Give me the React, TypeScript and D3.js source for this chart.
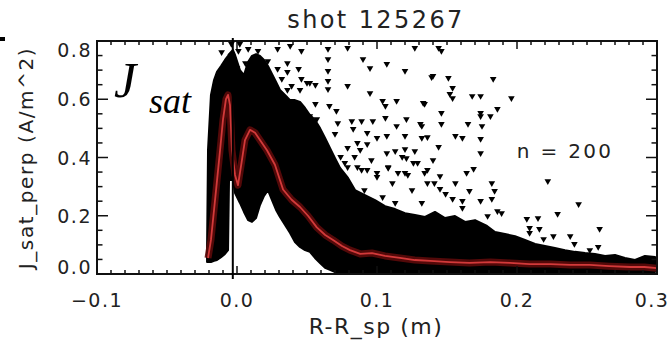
import React from 'react';
import * as d3 from 'd3';

const W = 671, H = 342;
const xTicks = [-0.1, 0.0, 0.1, 0.2, 0.3];
const xTickLabels = ['\u22120.1', '0.0', '0.1', '0.2', '0.3'];
const yTicks = [0.0, 0.2, 0.4, 0.6, 0.8];
const yTickLabels = ['0.0', '0.2', '0.4', '0.6', '0.8'];
const separatrixX = -0.003;

// dense cloud envelope (x, lower edge, upper edge)
const cloudX = [-0.0214,-0.0207,-0.0186,-0.0164,-0.0143,-0.0114,-0.0086,-0.0064,-0.0057,-0.0029,-0.0014,0.0021,0.005,0.0079,0.0107,0.0136,0.0164,0.0193,0.0221,0.025,0.0279,0.0307,0.0343,0.0379,0.0414,0.045,0.0486,0.0521,0.0557,0.0593,0.0629,0.0664,
  0.07,0.0736,0.0793,0.0843,0.0914,0.0986,0.1057,0.1129,0.12,0.1271,0.1343,0.1414,0.1486,0.1557,0.1629,0.17,0.1786,0.1843,0.1914,0.1986,0.2057,0.2129,0.22,0.2271,0.2343,0.2414,0.2486,0.2557,0.2629,0.27,0.2771,0.2843,0.2914,0.2986];
const cloudLo = [0.041,0.041,0.041,0.045,0.048,0.058,0.069,0.082,0.323,0.323,0.278,0.244,0.213,0.185,0.179,0.192,0.237,0.268,0.288,0.254,0.220,0.196,0.168,0.141,0.110,0.093,0.082,0.076,0.055,0.038,0.021,0.014,
  0.007,0.007,0.007,0.007,0.007,0.007,0.007,0.007,0.007,0.007,0.007,0.007,0.007,0.007,0.007,0.007,0.007,0.007,0.007,0.007,0.007,0.007,0.007,0.007,0.007,0.007,0.007,0.007,0.007,0.007,0.007,0.007,0.007,0.007];
const cloudHi = [0.082,0.426,0.615,0.666,0.694,0.714,0.735,0.749,0.755,0.769,0.752,0.700,0.683,0.728,0.749,0.755,0.749,0.735,0.714,0.687,0.659,0.632,0.615,0.597,0.597,0.591,0.570,0.546,0.529,0.501,0.467,0.433,
  0.398,0.364,0.330,0.288,0.271,0.254,0.233,0.223,0.209,0.203,0.196,0.213,0.192,0.199,0.179,0.185,0.165,0.144,0.137,0.130,0.117,0.103,0.096,0.089,0.082,0.076,0.072,0.069,0.062,0.065,0.055,0.048,0.062,0.058];

// sparse individual samples
const sparse: [number, number][] = [
  [0.001,0.766],[0.008,0.773],[0.015,0.766],[0.029,0.773],[0.038,0.783],[0.046,0.766],[0.000,0.707],[0.006,0.724],[0.022,0.731],[0.029,0.704],
  [0.036,0.724],[0.044,0.704],[0.032,0.670],[0.039,0.646],[0.046,0.670],[0.006,0.604],[0.004,0.646],[0.036,0.694],[0.045,0.632],[0.036,0.632],
  [0.050,0.656],[0.056,0.649],[-0.011,0.762],[-0.004,0.790],[0.002,0.790],
  [0.065,0.773],[0.065,0.738],[0.079,0.776],[0.090,0.738],[0.095,0.707],[0.107,0.721],[0.120,0.697],[0.127,0.776],[0.065,0.697],[0.065,0.663],
  [0.065,0.635],[0.052,0.656],[0.079,0.646],[0.095,0.621],[0.056,0.584],[0.066,0.577],[0.071,0.560],[0.104,0.594],[0.114,0.594],[0.106,0.577],
  [0.133,0.587],[0.052,0.542],[0.057,0.532],[0.072,0.518],[0.082,0.525],[0.089,0.525],[0.097,0.525],[0.106,0.536],[0.114,0.508],[0.121,0.532],
  [0.131,0.515],[0.083,0.498],[0.093,0.484],[0.100,0.467],[0.107,0.474],[0.120,0.474],[0.132,0.467],[0.070,0.481],[0.086,0.450],[0.093,0.446],
  [0.079,0.433],[0.113,0.422],[0.120,0.429],[0.127,0.422],[0.088,0.426],[0.107,0.415],[0.121,0.398],[0.126,0.381],[0.074,0.402],[0.079,0.367],
  [0.086,0.367],[0.093,0.357],[0.100,0.347],[0.108,0.364],[0.115,0.347],[0.122,0.340],[0.136,0.357],[0.140,0.391],[0.144,0.436],[0.136,0.470],
  [0.139,0.676],[0.144,0.776],[0.077,0.381],[0.084,0.402],[0.089,0.357],[0.096,0.391],[0.100,0.333],[0.108,0.367],[0.111,0.312],[0.118,0.402],
  [0.120,0.347],[0.125,0.288],[0.129,0.381],[0.132,0.244],[0.104,0.264],[0.113,0.244],[0.091,0.288],[0.079,0.299],
  [0.146,0.766],[0.140,0.680],[0.151,0.673],[0.154,0.639],[0.152,0.618],[0.154,0.604],[0.168,0.611],[0.174,0.611],[0.183,0.670],[0.196,0.604],
  [0.134,0.584],[0.146,0.553],[0.174,0.553],[0.174,0.542],[0.181,0.542],[0.186,0.567],[0.132,0.508],[0.146,0.515],[0.165,0.515],[0.175,0.508],
  [0.156,0.474],[0.161,0.467],[0.174,0.464],[0.174,0.415],[0.134,0.347],[0.145,0.336],[0.164,0.347],[0.169,0.361],[0.136,0.312],[0.141,0.312],
  [0.156,0.312],[0.166,0.285],[0.182,0.312],[0.184,0.285],[0.145,0.292],[0.149,0.275],[0.154,0.258],[0.161,0.251],[0.174,0.251],[0.182,0.258],
  [0.161,0.227],[0.186,0.216],[0.189,0.209],[0.179,0.199],[0.207,0.189],[0.215,0.192],[0.209,0.158],[0.209,0.141],
  [0.222,0.319],[0.244,0.240],[0.229,0.206],[0.216,0.155],[0.226,0.130],[0.238,0.130],[0.259,0.155],[0.241,0.103],[0.219,0.120],[0.252,0.082],[0.258,0.093],
];

// running median (n = 200)
const medX = [-0.0207,-0.0186,-0.0164,-0.0143,-0.0121,-0.010,-0.0079,-0.0064,-0.005,-0.0036,-0.0014,0.0007,0.003,0.0057,0.0093,0.0129,0.0164,0.0214,0.0271,0.0329,0.039,0.045,0.0507,0.057,0.063,0.0686,0.075,0.0807,0.088,0.0964,0.1057,0.1164,0.127,0.138,0.152,0.166,0.181,0.195,0.209,0.224,0.238,0.252,0.266,0.281,0.291,0.3];
const medY = [0.055,0.117,0.22,0.32,0.425,0.53,0.6,0.615,0.58,0.425,0.34,0.305,0.375,0.46,0.495,0.485,0.46,0.425,0.375,0.29,0.255,0.23,0.2,0.16,0.134,0.117,0.096,0.082,0.069,0.072,0.062,0.055,0.048,0.045,0.041,0.038,0.041,0.038,0.034,0.034,0.031,0.031,0.027,0.024,0.024,0.02];

const FONT = 'DejaVu Sans, sans-serif';

export default function App() {
  const x = d3.scaleLinear().domain([-0.1, 0.3]).range([97, 657]);
  const y = d3.scaleLinear().domain([0, 0.8]).range([274, 41]);
  const [x0, x1] = x.range();
  const [y0, y1] = y.range();

  const cloud = cloudX.map((v, i) => ({ x: v, lo: cloudLo[i], hi: cloudHi[i] }));
  const areaGen = d3.area<any>().x(d => x(d.x)).y0(d => y(d.lo)).y1(d => y(d.hi));
  const med = medX.map((v, i) => [v, medY[i]] as [number, number]);
  const lineGen = d3.line<[number, number]>().x(d => x(d[0])).y(d => y(d[1]));
  const tri = d3.symbol(d3.symbolTriangle, 19)();

  const xMinor = d3.range(-0.1, 0.3001, 0.01);
  const yMinor = d3.range(0, 0.8001, 0.05);
  const isMajor = (v: number, step: number) => Math.abs(v / step - Math.round(v / step)) < 1e-6;

  return (
    <svg width={W} height={H} style={{ position: 'absolute', left: 0, top: 0, background: '#fff' }}>
      <rect x={0} y={0} width={W} height={H} fill="#fff" />
      <defs>
        <clipPath id="plot"><rect x={x0} y={y1} width={x1 - x0} height={y0 - y1} /></clipPath>
      </defs>
      <rect x={0} y={37} width={5} height={4} fill="#000" />
      <g clipPath="url(#plot)">
        <path d={areaGen(cloud) || ''} fill="#000" stroke="#000" strokeWidth={2} strokeLinejoin="round" />
        {sparse.map((p, i) => (
          <path key={i} d={tri || ''} transform={`translate(${x(p[0])},${y(p[1])}) rotate(180)`} fill="#000" />
        ))}
        <path d={lineGen(med) || ''} fill="none" stroke="#5c0a0a" strokeWidth={7} strokeLinejoin="round" opacity={0.9} />
        <path d={lineGen(med) || ''} fill="none" stroke="#d23a3a" strokeWidth={1.8} strokeLinejoin="round" />
      </g>
      <rect x={x0} y={y1} width={x1 - x0} height={y0 - y1} fill="none" stroke="#111" strokeWidth={2} />
      {xMinor.map((v, i) => {
        const L = isMajor(v, 0.1) ? 8 : 4;
        return (
          <g key={'xt' + i}>
            <line x1={x(v)} x2={x(v)} y1={y0} y2={y0 - L} stroke="#111" strokeWidth={1.5} />
            <line x1={x(v)} x2={x(v)} y1={y1} y2={y1 + L} stroke="#111" strokeWidth={1.5} />
          </g>
        );
      })}
      {yMinor.map((v, i) => {
        const L = isMajor(v, 0.2) ? 11 : 5.5;
        return (
          <g key={'yt' + i}>
            <line x1={x0} x2={x0 + L} y1={y(v)} y2={y(v)} stroke="#111" strokeWidth={1.5} />
            <line x1={x1} x2={x1 - L} y1={y(v)} y2={y(v)} stroke="#111" strokeWidth={1.5} />
          </g>
        );
      })}
      <line x1={x(separatrixX)} x2={x(separatrixX)} y1={y1 - 3} y2={y0 + 5} stroke="#000" strokeWidth={2} />
      {xTicks.map((v, i) => (
        <text key={'xl' + i} x={Math.min(x(v), 652)} y={307} textAnchor="middle" fontFamily={FONT} fontSize={19} letterSpacing={1.5} fill="#222">{xTickLabels[i]}</text>
      ))}
      {yTicks.map((v, i) => (
        <text key={'yl' + i} x={92} y={Math.min(Math.max(y(v), 50), 267) + 7} textAnchor="end" fontFamily={FONT} fontSize={19} letterSpacing={1.5} fill="#222">{yTickLabels[i]}</text>
      ))}
      <text x={376} y={28} textAnchor="middle" fontFamily={FONT} fontSize={24} letterSpacing={2.4} fill="#222">shot 125267</text>
      <text x={376} y={334} textAnchor="middle" fontFamily={FONT} fontSize={22} letterSpacing={1.5} fill="#222">R-R_sp (m)</text>
      <text transform="translate(33,158) rotate(-90)" textAnchor="middle" fontFamily={FONT} fontSize={20} letterSpacing={1.6} fill="#222">J_sat_perp (A/m^2)</text>
      <text x={565} y={158} textAnchor="middle" fontFamily={FONT} fontSize={20} letterSpacing={2.3} fill="#222">n = 200</text>
      <text x={114} y={97} fontFamily="Liberation Serif, Times New Roman, serif" fontStyle="italic" fontSize={50} fill="#000">J</text>
      <text x={149} y={113} fontFamily="Liberation Serif, Times New Roman, serif" fontStyle="italic" fontSize={36} fill="#000">sat</text>
    </svg>
  );
}
